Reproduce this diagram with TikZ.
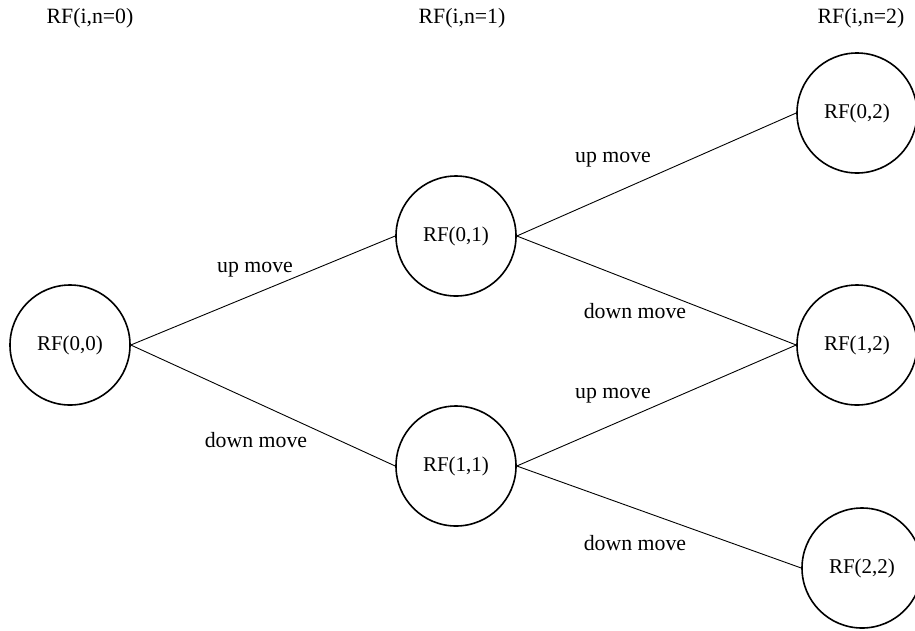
\documentclass[tikz,border=0pt]{standalone}
\usepackage{fontspec}
\setmainfont{Liberation Serif}
\begin{document}
\begin{tikzpicture}[x=1pt,y=-1pt,
  every node/.style={font=\fontsize{21.8}{26}\selectfont},
  state/.style={circle,draw,line width=1.6pt,minimum size=120pt,inner sep=0pt,
    font=\fontsize{21}{25}\selectfont},
  move/.style={line width=0.9pt},
  lbl/.style={inner sep=0pt}]
\useasboundingbox (0,0) rectangle (915,630);
\clip (0,0) rectangle (915,630);
% column headings
\node[lbl] (h0) at (90,18) {RF(i,n=0)};
\node[lbl] (h1) at (462,18) {RF(i,n=1)};
\node[lbl] (h2) at (861,18) {RF(i,n=2)};
% lattice states
\node[state] (s00) at (70,345) {RF(0,0)};
\node[state] (s01) at (456,236) {RF(0,1)};
\node[state] (s11) at (456,466) {RF(1,1)};
\node[state] (s02) at (857,113) {RF(0,2)};
\node[state] (s12) at (857,345) {RF(1,2)};
\node[state] (s22) at (862,568) {RF(2,2)};
% moves
\draw[move] (s00.east) -- (s01.west);
\draw[move] (s00.east) -- (s11.west);
\draw[move] (s01.east) -- (s02.west);
\draw[move] (s01.east) -- (s12.west);
\draw[move] (s11.east) -- (s12.west);
\draw[move] (s11.east) -- (s22.west);
% move labels
\node[lbl] (u1) at (255,270) {up move};
\node[lbl] (d1) at (256,440) {down move};
\node[lbl] (u2) at (613,160) {up move};
\node[lbl] (d2) at (635,311) {down move};
\node[lbl] (u3) at (613,396) {up move};
\node[lbl] (d3) at (635,543) {down move};
\end{tikzpicture}
\end{document}
